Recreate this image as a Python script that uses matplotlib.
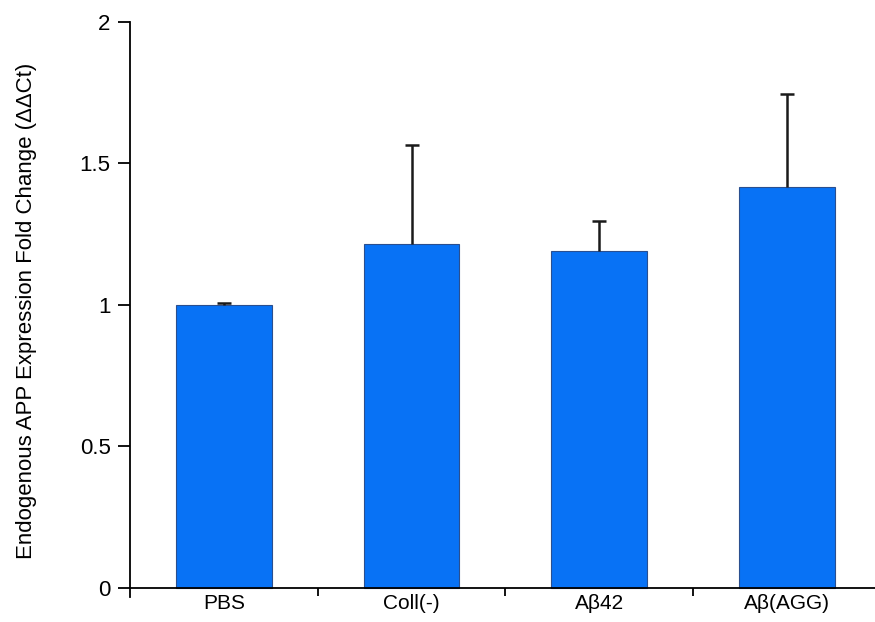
import numpy as np
import matplotlib.pyplot as plt

# values
groups = ['PBS', 'Coll(-)', 'Aβ42', 'Aβ(AGG)']
fold_change = [1.00, 1.215, 1.19, 1.415]
err_upper = [0.005, 0.35, 0.107, 0.33]
y_ticks = [0, 0.5, 1, 1.5, 2]
y_ticklabels = ['0', '0.5', '1', '1.5', '2']

plt.rcParams['font.family'] = ['Liberation Sans', 'DejaVu Sans']

fig = plt.figure(figsize=(8.75, 6.22), dpi=100)
ax = fig.add_axes([0.1486, 0.040, 0.858, 0.925])

x = np.arange(len(groups))
ax.bar(x, fold_change, width=0.51, color='#0872f5', edgecolor='#2a4f8f',
       linewidth=0.8, zorder=2)
eb = ax.errorbar(x, fold_change, yerr=[np.zeros(len(x)), err_upper], fmt='none',
                 ecolor='#1a1a1a', elinewidth=1.8, capsize=5, capthick=1.8, zorder=3)
# only the upper half of the error bar is shown, hide the lower caps
eb[1][0].set_visible(False)

ax.set_xlim(-0.5, 3.5)
ax.set_ylim(-0.032, 2)

for s in ['top', 'right']:
    ax.spines[s].set_visible(False)
ax.spines['bottom'].set_position(('data', 0))
ax.spines['left'].set_linewidth(1.3)
ax.spines['bottom'].set_linewidth(1.3)

ax.set_xticks(x)
ax.set_xticklabels(groups, fontsize=15)
ax.set_xticks([0.5, 1.5, 2.5], minor=True)
ax.tick_params(axis='x', which='major', length=0, pad=4)
ax.tick_params(axis='x', which='minor', length=6, width=1.3, direction='out')

ax.set_yticks(y_ticks)
ax.set_yticklabels(y_ticklabels, fontsize=16)
ax.tick_params(axis='y', length=9, width=1.3, direction='out', pad=5)

ax.set_ylabel('Endogenous APP Expression Fold Change (ΔΔCt)', fontsize=16)
ax.yaxis.set_label_coords(-0.124, 0.497)

fig.savefig('out.png', dpi=100)
